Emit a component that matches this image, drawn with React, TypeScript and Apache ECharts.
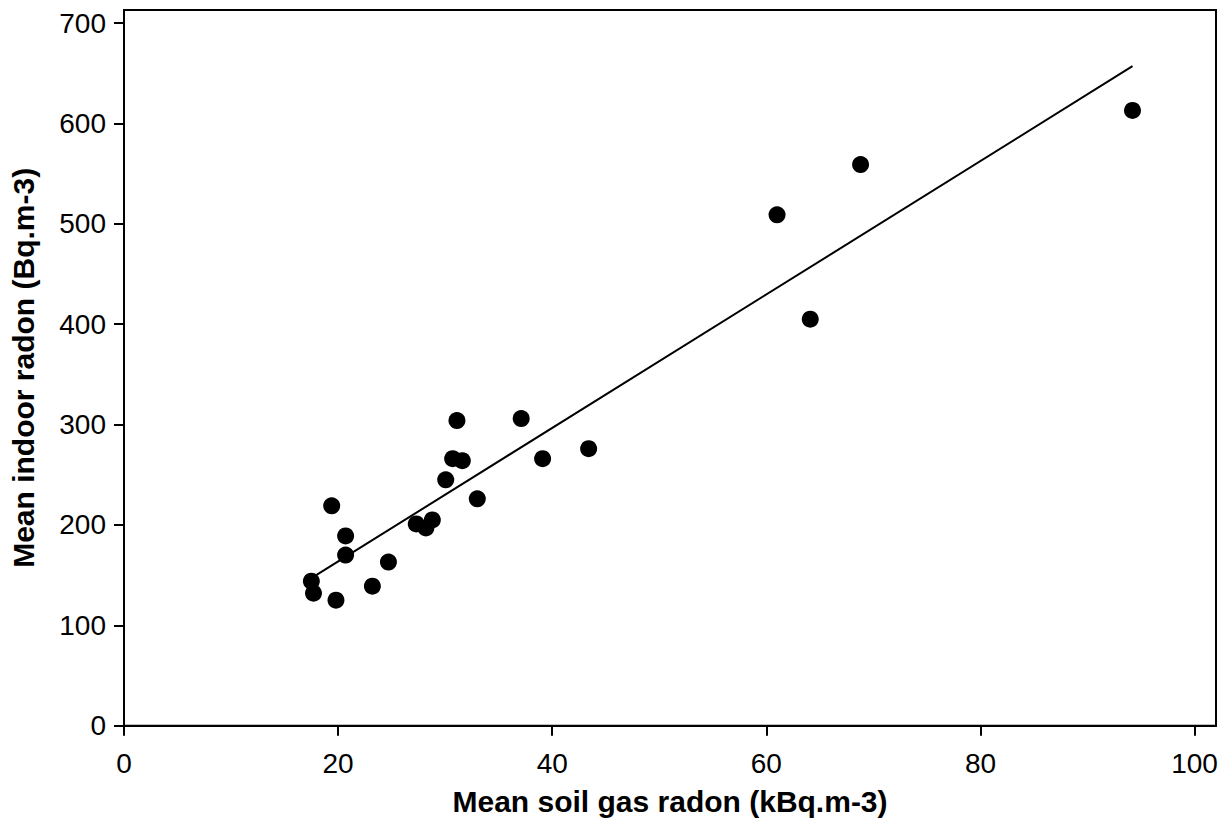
import React, { useEffect, useRef } from "react";
import * as echarts from "echarts";

const soilGas = [17.5, 17.7, 19.8, 19.4, 20.7, 20.7, 23.2, 24.7, 27.3, 28.2, 28.8, 30.05, 30.7, 31.6, 31.1, 33.0, 37.1, 39.1, 43.4, 61.0, 64.1, 68.8, 94.2];
const indoorRadon = [144, 132, 125, 219, 189, 170, 139, 163, 201, 197, 205, 245, 266, 264, 304, 226, 306, 266, 276, 509, 405, 559, 613];
const fitX = [17.5, 94.2];
const fitY = [147, 657];
const xTicks = [0, 20, 40, 60, 80, 100];
const yTicks = [0, 100, 200, 300, 400, 500, 600, 700];

const FONT = "'Liberation Sans', Arial, sans-serif";

export default function App() {
  const ref = useRef<HTMLDivElement>(null);
  useEffect(() => {
    if (!ref.current) return;
    const chart = echarts.init(ref.current, undefined, { renderer: "svg" });
    const axisCommon = {
      type: "value" as const,
      splitLine: { show: false },
      axisLine: { show: true, onZero: false, lineStyle: { color: "#000", width: 2 } },
      axisTick: { show: true, length: 10, lineStyle: { color: "#000", width: 2 } },
      nameTextStyle: { fontFamily: FONT, fontWeight: "bold" as const, fontSize: 30, color: "#000" },
      nameLocation: "middle" as const,
    };
    chart.setOption({
      animation: false,
      backgroundColor: "#fff",
      grid: {
        left: 123.5,
        top: 10,
        right: 15,
        bottom: 99.3,
        show: true,
        borderColor: "#000",
        borderWidth: 2,
        containLabel: false,
      },
      xAxis: {
        ...axisCommon,
        min: 0,
        max: 102,
        interval: 20,
        name: "Mean soil gas radon (kBq.m-3)",
        nameGap: 61,
        axisTick: { ...axisCommon.axisTick, customValues: xTicks },
        axisLabel: { customValues: xTicks, fontFamily: FONT, fontSize: 28, color: "#000", margin: 24 },
      },
      yAxis: {
        ...axisCommon,
        min: 0,
        max: 713,
        interval: 100,
        name: "Mean indoor radon (Bq.m-3)",
        nameGap: 86,
        axisTick: { ...axisCommon.axisTick, customValues: yTicks },
        axisLabel: { customValues: yTicks, fontFamily: FONT, fontSize: 28, color: "#000", margin: 18 },
      },
      series: [
        {
          type: "line",
          data: fitX.map((x, i) => [x, fitY[i]]),
          showSymbol: false,
          lineStyle: { color: "#000", width: 2 },
          z: 2,
        },
        {
          type: "scatter",
          data: soilGas.map((x, i) => [x, indoorRadon[i]]),
          symbol: "circle",
          symbolSize: 17,
          itemStyle: { color: "#000", opacity: 1 },
          z: 3,
        },
      ],
    });
    return () => chart.dispose();
  }, []);
  return (
    <div
      ref={ref}
      style={{ position: "fixed", left: 0, top: 0, width: 1231, height: 825 }}
    />
  );
}
